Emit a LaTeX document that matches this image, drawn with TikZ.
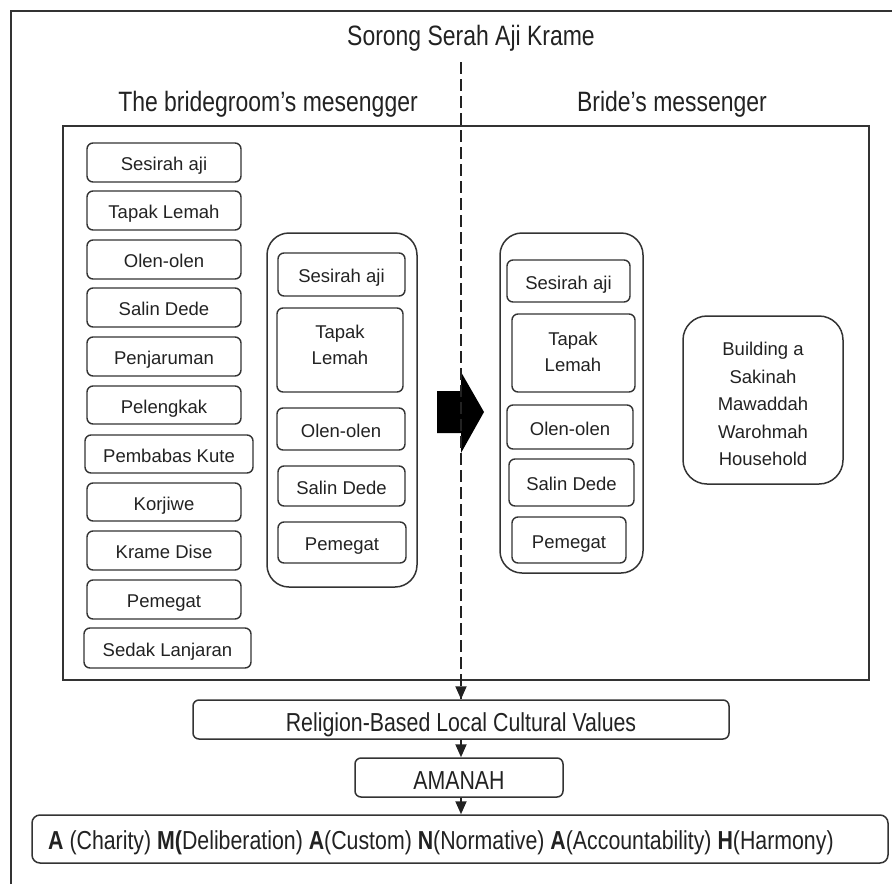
\documentclass[tikz,border=0pt]{standalone}
\usepackage{fontspec}
\setmainfont{Liberation Sans}
\newfontfamily\condfont[FakeStretch=0.82]{Liberation Sans}
\usetikzlibrary{arrows.meta}
\definecolor{ink}{HTML}{222222}
\definecolor{edge}{HTML}{333333}
\tikzset{
  itembox/.style={draw=edge, line width=1.4pt, rounded corners=6pt, inner sep=0pt,
    text=ink, font=\fontsize{18.5}{22}\selectfont, text height=18pt, text depth=2pt},
  groupbox/.style={draw=edge, line width=1.5pt, rounded corners=22pt, inner sep=0pt},
  plain/.style={text=ink, inner sep=0pt},
  flowbox/.style={draw=edge, line width=1.5pt, rounded corners=6pt, inner sep=0pt,
    text=ink, font=\condfont\fontsize{26}{30}\selectfont, text height=25pt, text depth=1.5pt},
  flowarrow/.style={draw=ink, line width=2pt, -{Triangle[width=11pt,length=13pt]}},
}
\newcommand{\boxat}[6]{% name, x1, y1, x2, y2, text
  \node[itembox, minimum width=#4pt-#2pt, minimum height=#5pt-#3pt] (#1) at ({(#2+#4)/2},{(#3+#5)/2}) {#6};}
\begin{document}
\begin{tikzpicture}[x=1pt,y=-1pt]
\useasboundingbox (0,0) rectangle (892,884);
% outer frame (cropped)
\draw[draw=edge, line width=2pt] (11,884) -- (11,11) -- (892,11);

% headings
\node[plain, anchor=base, font=\condfont\fontsize{28}{32}\selectfont] (title) at (471,45) {Sorong Serah Aji Krame};
\node[plain, anchor=base, font=\condfont\fontsize{28}{32}\selectfont] (groom) at (268,111) {The bridegroom’s mesengger};
\node[plain, anchor=base, font=\condfont\fontsize{28}{32}\selectfont] (bride) at (672,111) {Bride’s messenger};

% main frame
\node[draw=edge, line width=1.6pt, minimum width=806pt, minimum height=554pt, inner sep=0pt] (main) at (466,403) {};

% left column
\boxat{l1}{87}{143}{241}{182}{Sesirah aji}
\boxat{l2}{87}{191}{241}{230}{Tapak Lemah}
\boxat{l3}{87}{240}{241}{279}{Olen-olen}
\boxat{l4}{87}{288}{241}{327}{Salin Dede}
\boxat{l5}{87}{337}{241}{376}{Penjaruman}
\boxat{l6}{87}{386}{241}{424}{Pelengkak}
\boxat{l7}{85}{435}{253}{473}{Pembabas Kute}
\boxat{l8}{87}{483}{241}{521}{Korjiwe}
\boxat{l9}{87}{531}{241}{570}{Krame Dise}
\boxat{l10}{87}{580}{241}{619}{Pemegat}
\boxat{l11}{84}{628}{251}{668}{Sedak Lanjaran}

% middle group
\node[groupbox, minimum width=150pt, minimum height=354pt] (gm) at (342,410) {};
\boxat{m1}{278}{253}{405}{296}{Sesirah aji}
\boxat{m2}{277}{308}{403}{392}{}
\node[plain, align=center, font=\fontsize{18.5}{26.5}\selectfont] (m2t) at (340,345) {Tapak\\Lemah};
\boxat{m3}{277}{408}{405}{450}{Olen-olen}
\boxat{m4}{278}{466}{405}{506}{Salin Dede}
\boxat{m5}{278}{522}{406}{563}{Pemegat}

% right group
\node[groupbox, minimum width=143pt, minimum height=340pt] (gr) at (571.5,403) {};
\boxat{r1}{507}{260}{630}{302}{Sesirah aji}
\boxat{r2}{512}{314}{635}{392}{}
\node[plain, align=center, font=\fontsize{18.5}{26}\selectfont] (r2t) at (573,352) {Tapak\\Lemah};
\boxat{r3}{507}{405}{633}{449}{Olen-olen}
\boxat{r4}{509}{459}{634}{506}{Salin Dede}
\boxat{r5}{512}{517}{626}{563}{Pemegat}

% goal box
\node[draw=edge, line width=1.5pt, rounded corners=24pt, minimum width=160pt, minimum height=168pt, inner sep=0pt] (goal) at (763,400) {};
\node[plain, align=center, font=\fontsize{18.5}{27.5}\selectfont] (goalt) at (763,404)
  {Building a\\Sakinah\\Mawaddah\\Warohmah\\Household};

% big block arrow
\fill[black] (437,391) -- (461,391) -- (461,372) -- (484,412) -- (461,453) -- (461,433) -- (437,433) -- cycle;

% bottom flow
\node[flowbox, minimum width=536pt, minimum height=39pt] (rel) at (461,719.5) {Religion-Based Local Cultural Values};
\node[flowbox, minimum width=208pt, minimum height=39pt] (amanah) at (459,777.5) {AMANAH};
\node[draw=edge, line width=1.5pt, rounded corners=8pt, minimum width=856pt, minimum height=48pt, inner sep=0pt] (values) at (460,839) {};
\node[plain, anchor=west, font=\condfont\fontsize{26}{30}\selectfont, text height=22pt, text depth=1.5pt] (valuest) at (48,839)
  {\textbf{A} (Charity) \textbf{M(}Deliberation) \textbf{A}(Custom) \textbf{N}(Normative) \textbf{A}(Accountability) \textbf{H}(Harmony)};

% connectors
\coordinate (dashtop) at (461,62);
\draw[draw=ink, line width=1.5pt, dash pattern=on 12pt off 5pt] (dashtop) -- (dashtop |- rel.north);
\draw[flowarrow] (461,690) -- (rel.north -| dashtop);
\draw[flowarrow] (rel.south -| dashtop) -- (amanah.north -| dashtop);
\draw[flowarrow] (amanah.south -| dashtop) -- (values.north -| dashtop);
\end{tikzpicture}
\end{document}
